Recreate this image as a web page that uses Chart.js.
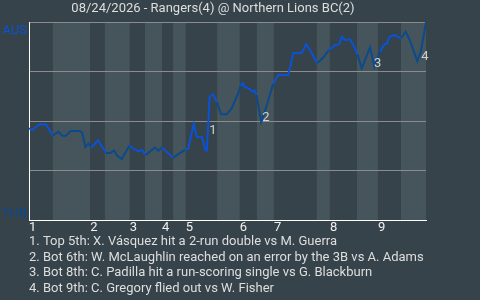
<!DOCTYPE html>
<html>
<head>
<meta charset="utf-8">
<script src="https://cdn.jsdelivr.net/npm/chart.js@4/dist/chart.umd.min.js"></script>
<style>
  html, body { margin: 0; padding: 0; background: #36434a; }
  canvas { display: block; }
</style>
</head>
<body>
<canvas id="c" width="480" height="300"></canvas>
<script>
// ---- data ----
const titleText = '08/24/2026 - Rangers(4) @ Northern Lions BC(2)';
const awayTeam = 'AUS';
const homeTeam = 'THB';
const inningLabels = ['1', '2', '3', '4', '5', '6', '7', '8', '9'];
// game progress (%) where each inning starts
const inningStarts = [0, 15.4, 25.4, 33.5, 39.5, 53.1, 61.7, 75.8, 87.9];
// game progress (%) where each half inning starts (top, bottom, top, ...), plus end
const halfInningStarts = [0, 6.0, 15.4, 19.1, 25.4, 29.2, 33.5, 36.3, 39.5, 47.4, 53.1, 57.4, 61.7, 72.5, 75.8, 82.6, 87.9, 93.7, 100];
// game progress (%) of each play
const playX = [0, 0.9, 2.5, 4.3, 6.0, 7.4, 8.4, 9.3, 10.5, 12.7,
  13.4, 14.2, 15.0, 15.7, 17.4, 19.4, 20.5, 21.4, 22.2, 23.4,
  25.3, 26.4, 27.5, 28.5, 29.4, 31.7, 32.6, 33.5, 36.3, 38.0,
  39.3, 40.1, 41.5, 42.3, 43.6, 44.4, 44.8, 45.5, 46.4, 47.3,
  48.4, 49.8, 51.1, 52.8, 53.3, 53.8, 54.3, 55.5, 56.3, 56.8,
  57.3, 58.5, 59.4, 61.5, 62.8, 65.3, 66.6, 68.7, 69.8, 71.0,
  72.6, 74.0, 75.6, 77.1, 78.1, 78.8, 79.6, 80.9, 81.7, 82.8,
  83.8, 85.9, 87.0, 88.4, 89.5, 90.1, 90.9, 92.0, 93.7, 94.9,
  96.0, 97.8, 98.7, 100];
// away (AUS) win probability after each play
const winProb = [0.462, 0.455, 0.482, 0.482, 0.427, 0.446, 0.425, 0.425, 0.449, 0.449,
  0.442, 0.369, 0.386, 0.366, 0.402, 0.338, 0.338, 0.351, 0.326, 0.308,
  0.376, 0.359, 0.346, 0.354, 0.328, 0.366, 0.350, 0.366, 0.315, 0.338,
  0.354, 0.361, 0.485, 0.419, 0.418, 0.354, 0.351, 0.623, 0.634, 0.596,
  0.534, 0.534, 0.566, 0.646, 0.677, 0.692, 0.673, 0.662, 0.648, 0.654,
  0.631, 0.495, 0.548, 0.687, 0.732, 0.732, 0.843, 0.843, 0.889, 0.850,
  0.793, 0.818, 0.859, 0.884, 0.887, 0.926, 0.909, 0.913, 0.884, 0.833,
  0.766, 0.872, 0.774, 0.850, 0.887, 0.892, 0.926, 0.934, 0.918, 0.951,
  0.904, 0.803, 0.850, 1.0];
// key play markers
const markerLabels = ['1', '2', '3', '4'];
const markerX = [46.3, 59.7, 87.8, 99.7];
const markerY = [0.452, 0.518, 0.790, 0.823];
const keyPlays = [
  '1. Top 5th: X. Vásquez hit a 2-run double vs M. Guerra',
  '2. Bot 6th: W. McLaughlin reached on an error by the 3B vs A. Adams',
  '3. Bot 8th: C. Padilla hit a run-scoring single vs G. Blackburn',
  '4. Bot 9th: C. Gregory flied out vs W. Fisher'
];

// ---- styles ----
const BG = '#36434a';
const BAND_TOP = '#36434a';
const BAND_BOT = '#46545b';
const AWAY_COLOR = '#0a52d6';
const HOME_COLOR = '#0b4a8b';
const TEXT = '#dedede';
const FONT = 'Roboto';
const AWAY_TICK = 0.958;
const HOME_TICK = 0.03;

function halfIndex(x) {
  for (let i = 0; i < halfInningStarts.length - 1; i++) {
    if (x >= halfInningStarts[i] && x < halfInningStarts[i + 1]) return i;
  }
  return halfInningStarts.length - 2;
}

const bgPlugin = {
  id: 'bgBands',
  beforeDraw(chart) {
    const { ctx, chartArea, scales } = chart;
    ctx.save();
    ctx.fillStyle = BG;
    ctx.fillRect(0, 0, chart.width, chart.height);
    for (let i = 0; i < halfInningStarts.length - 1; i++) {
      const x0 = scales.x.getPixelForValue(halfInningStarts[i]);
      const x1 = scales.x.getPixelForValue(halfInningStarts[i + 1]);
      ctx.fillStyle = i % 2 === 0 ? BAND_TOP : BAND_BOT;
      ctx.fillRect(x0, chartArea.top, x1 - x0, chartArea.bottom - chartArea.top);
    }
    ctx.restore();
  },
  afterDatasetsDraw(chart) {
    const { ctx, scales } = chart;
    ctx.save();
    ctx.font = '13px ' + FONT;
    ctx.fillStyle = '#d0d0d0';
    ctx.textAlign = 'center';
    ctx.textBaseline = 'middle';
    markerLabels.forEach((t, i) => {
      ctx.fillText(t, scales.x.getPixelForValue(markerX[i]), scales.y.getPixelForValue(markerY[i]));
    });
    ctx.restore();
  }
};

new Chart(document.getElementById('c'), {
  type: 'line',
  data: {
    datasets: [{
      data: playX.map((x, i) => ({ x: x, y: winProb[i] })),
      borderWidth: 2,
      pointRadius: 0,
      tension: 0,
      fill: false,
      borderColor: AWAY_COLOR,
      segment: {
        borderColor: (c) => halfIndex((c.p0.parsed.x + c.p1.parsed.x) / 2) % 2 === 0 ? AWAY_COLOR : HOME_COLOR
      }
    }]
  },
  options: {
    responsive: false,
    animation: false,
    devicePixelRatio: 1,
    layout: { padding: { left: 0, right: 54, top: 0, bottom: 0 } },
    plugins: {
      legend: { display: false },
      tooltip: { enabled: false },
      title: {
        display: true,
        text: titleText,
        color: TEXT,
        font: { family: FONT, size: 13, weight: 'normal', lineHeight: 1.2 },
        padding: { top: 1, bottom: 5.4 }
      },
      subtitle: {
        display: true,
        position: 'bottom',
        align: 'start',
        fullSize: false,
        text: keyPlays,
        color: TEXT,
        font: { family: FONT, size: 13, weight: 'normal', lineHeight: 1.2 },
        padding: { top: 0.2, bottom: 3.4 }
      }
    },
    scales: {
      x: {
        type: 'linear',
        min: 0,
        max: 100,
        afterBuildTicks: (s) => { s.ticks = inningStarts.map(v => ({ value: v })); },
        afterFit: (s) => { s.height = 14; },
        ticks: {
          autoSkip: false,
          maxRotation: 0,
          align: 'start',
          padding: 0,
          color: '#f0f0f0',
          font: { family: FONT, size: 13 },
          callback: (v, i) => inningLabels[i]
        },
        grid: { display: true, color: 'transparent', drawTicks: false },
        border: { display: true, color: '#ffffff', width: 1 }
      },
      y: {
        type: 'linear',
        min: 0,
        max: 1,
        afterBuildTicks: (s) => {
          s.ticks = [0, HOME_TICK, 0.25, 0.5, 0.75, AWAY_TICK, 1].map(v => ({ value: v }));
        },
        afterFit: (s) => { s.width = 29; },
        ticks: {
          autoSkip: false,
          padding: 2,
          font: { family: FONT, size: 13 },
          color: (c) => c.tick && c.tick.value > 0.5 ? AWAY_COLOR : HOME_COLOR,
          callback: (v) => v === AWAY_TICK ? awayTeam : (v === HOME_TICK ? homeTeam : '')
        },
        grid: {
          drawTicks: false,
          lineWidth: 1,
          color: (c) => {
            const v = c.tick ? c.tick.value : -1;
            if (v === HOME_TICK || v === AWAY_TICK) return 'transparent';
            if (v === 0) return '#ffffff';
            return '#8c8c8c';
          }
        },
        border: { display: true, color: '#ffffff', width: 1 }
      }
    }
  },
  plugins: [bgPlugin]
});
</script>
</body>
</html>
